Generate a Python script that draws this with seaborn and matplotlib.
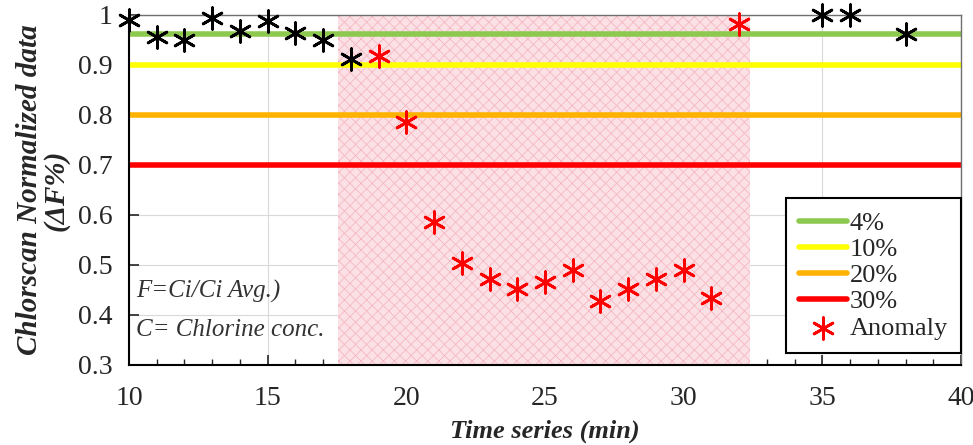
import numpy as np
import pandas as pd
import matplotlib
matplotlib.use("Agg")
import matplotlib.pyplot as plt
import seaborn as sns

# normal readings (black)
normal_t = [10, 11, 12, 13, 14, 15, 16, 17, 18, 35, 36, 38]
normal_f = [0.990, 0.956, 0.950, 0.994, 0.968, 0.988, 0.964, 0.950, 0.912, 1.000, 1.000, 0.962]

# anomaly readings (red)
anomaly_t = [19, 20, 21, 22, 23, 24, 25, 26, 27, 28, 29, 30, 31, 32]
anomaly_f = [0.918, 0.786, 0.586, 0.504, 0.472, 0.452, 0.466, 0.490, 0.428, 0.452, 0.472, 0.490, 0.434, 0.982]

# threshold levels
thr_labels = ["4%", "10%", "20%", "30%"]
thr_values = [0.962, 0.90, 0.80, 0.70]
thr_colors = ["#8DC94F", "#FFFF00", "#FFB300", "#FF0000"]

# anomaly window
window = [17.55, 32.4]

sns.set_style("white")
plt.rcParams["font.family"] = ["Liberation Serif", "DejaVu Serif"]
plt.rcParams["hatch.linewidth"] = 0.6

fig, ax = plt.subplots(figsize=(9.73, 4.45), dpi=100)
fig.subplots_adjust(left=0.1326, right=0.9877, bottom=0.1798, top=0.9663)

ax.axvspan(window[0], window[1], facecolor="#FBE1E5", edgecolor="#F5B8C1",
           hatch="xxx", linewidth=0, zorder=1)

for lab, val, col in zip(thr_labels, thr_values, thr_colors):
    ax.axhline(val, color=col, linewidth=4, label=lab, zorder=2)

star = (6, 2, 0)
df_n = pd.DataFrame({"t": normal_t, "f": normal_f})
df_a = pd.DataFrame({"t": anomaly_t, "f": anomaly_f})
sns.scatterplot(data=df_n, x="t", y="f", ax=ax, marker=star, s=240,
                color="black", linewidth=2, zorder=4, legend=False, clip_on=False)
sns.scatterplot(data=df_a, x="t", y="f", ax=ax, marker=star, s=240,
                color="red", edgecolor="red", linewidth=2, zorder=4, label="Anomaly",
                clip_on=False)

ax.set_xlim(10, 40)
ax.set_ylim(0.3, 1.0)
ax.set_xticks([10, 15, 20, 25, 30, 35, 40])
ax.set_xticks(np.arange(10, 41, 1), minor=True)
ax.set_yticks(np.arange(0.3, 1.01, 0.1))
ax.set_yticklabels(["0.3", "0.4", "0.5", "0.6", "0.7", "0.8", "0.9", "1"])
ax.grid(True, which="major", color="#D9D9D9", linewidth=0.8, zorder=0)
ax.set_axisbelow(True)
ax.tick_params(axis="both", which="major", direction="in", length=7, width=1.2,
               labelsize=20, bottom=True, left=True)
ax.tick_params(axis="y", which="major", pad=12)
ax.tick_params(axis="x", which="major", pad=15)
ax.tick_params(axis="x", which="minor", direction="in", length=4, width=1, bottom=True)

for side in ["left", "bottom"]:
    ax.spines[side].set_color("black")
    ax.spines[side].set_linewidth(1.5)
for side in ["top", "right"]:
    ax.spines[side].set_color("#707070")
    ax.spines[side].set_linewidth(1.0)

ax.set_xlabel("Time series (min)", fontsize=19, fontweight="bold", style="italic", labelpad=6)
ax.set_ylabel("Chlorscan Normalized data\n(ΔF%)", fontsize=21, fontweight="bold",
              style="italic", labelpad=6, linespacing=0.95)

ax.text(0.008, 0.21, "F=Ci/Ci Avg.)", transform=ax.transAxes, fontsize=18,
        style="italic", color="#333333", va="center")
ax.text(0.008, 0.10, "C= Chlorine conc.", transform=ax.transAxes, fontsize=18,
        style="italic", color="#333333", va="center")

leg = ax.legend(loc="lower right", bbox_to_anchor=(1.0, 0.035), fontsize=19,
                frameon=True, fancybox=False, framealpha=1, edgecolor="black",
                borderpad=0.5, labelspacing=0.1, handlelength=1.8, handletextpad=0.1,
                borderaxespad=0)
leg.get_frame().set_linewidth(1.5)

fig.savefig("out.png", dpi=100)
